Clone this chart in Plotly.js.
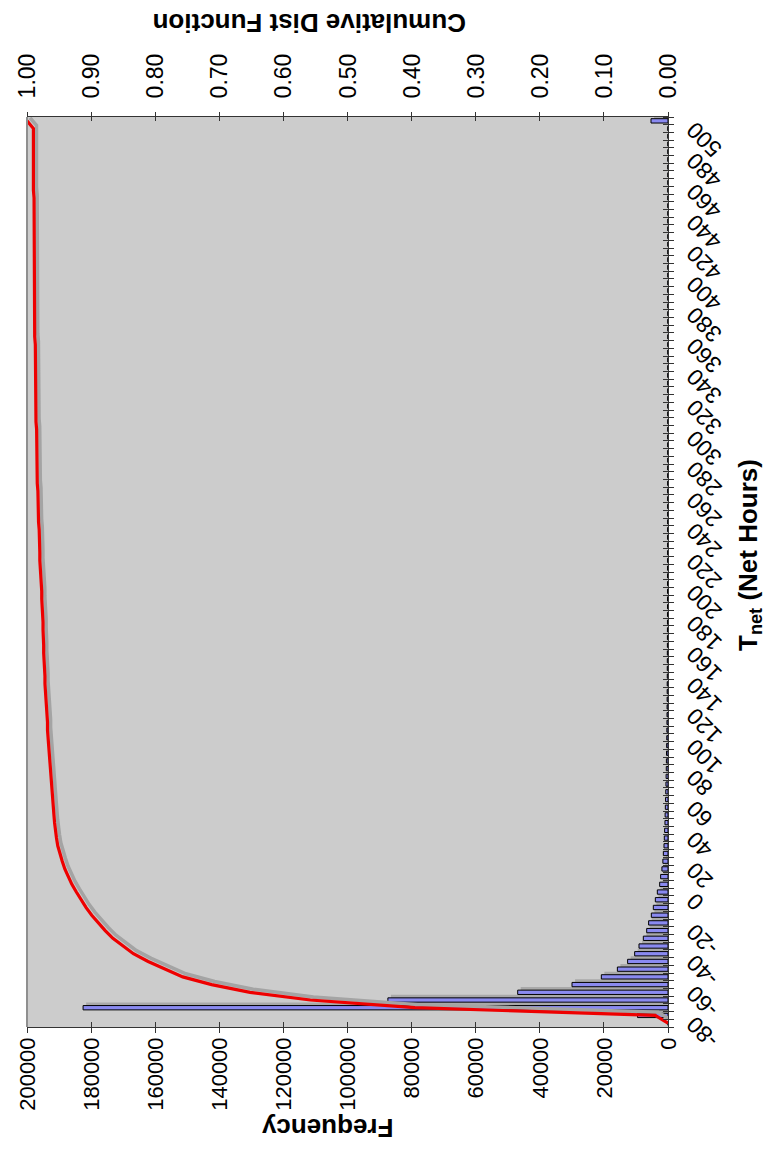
<!DOCTYPE html>
<html>
<head>
<meta charset="utf-8">
<script src="https://cdn.plot.ly/plotly-3.0.1.min.js"></script>
<style>
html,body{margin:0;padding:0;background:#fff;overflow:hidden;width:770px;height:1152px;}
#wrap{position:absolute;left:0;top:0;width:1152px;height:770px;transform-origin:0 0;transform:translate(0px,1152px) rotate(-90deg);}
#chart{width:1152px;height:770px;}
</style>
</head>
<body>
<div id="wrap"><div id="chart"></div></div>
<script>
// Bin values of T_net (net hours)
const tnetBins = [
  -80,-75,-70,-65,-60,-55,-50,-45,-40,-35,
  -30,-25,-20,-15,-10,-5,0,5,10,15,
  20,25,30,35,40,45,50,55,60,65,
  70,75,80,85,90,95,100,105,110,115,
  120,125,130,135,140,145,150,155,160,165,
  170,175,180,185,190,195,200,205,210,215,
  220,225,230,235,240,245,250,255,260,265,
  270,275,280,285,290,295,300,305,310,315,
  320,325,330,335,340,345,350,355,360,365,
  370,375,380,385,390,395,400,405,410,415,
  420,425,430,435,440,445,450,455,460,465,
  470,475,480,485,490,495,500,505
];

// Frequency per bin
const frequency = [
  0,9500,182500,87400,46900,29950,20800,15800,12600,10400,
  9050,7700,6650,6050,5200,4580,3950,3330,2600,2300,
  1900,1600,1450,1250,1150,1050,950,900,830,760,
  700,640,600,540,500,460,420,390,360,330,
  310,290,275,260,250,235,225,215,205,195,
  185,178,170,162,155,150,144,138,132,128,
  123,118,115,112,108,105,102,100,97,95,
  92,90,88,86,84,82,80,78,76,75,
  73,72,70,69,68,66,65,64,63,62,
  61,60,59,58,57,56,55,54,54,53,
  52,51,50,50,49,48,48,47,46,46,
  45,45,44,44,43,43,42,5300
];

// Cumulative distribution function per bin
const cdf = [
  0,0.020,0.395,0.558,0.652,0.712,0.757,0.785,0.811,0.834,
  0.851,0.866,0.878,0.889,0.899,0.908,0.916,0.923,0.930,0.936,
  0.941,0.945,0.949,0.952,0.954,0.956,0.957,0.958,0.959,0.960,
  0.961,0.962,0.963,0.964,0.965,0.966,0.966,0.967,0.968,0.968,
  0.969,0.970,0.971,0.971,0.972,0.972,0.973,0.973,0.974,0.974,
  0.975,0.975,0.975,0.976,0.976,0.977,0.977,0.978,0.978,0.979,
  0.980,0.980,0.980,0.981,0.981,0.982,0.982,0.983,0.983,0.983,
  0.984,0.984,0.984,0.984,0.985,0.985,0.985,0.985,0.986,0.986,
  0.986,0.986,0.986,0.987,0.987,0.987,0.987,0.987,0.987,0.988,
  0.988,0.988,0.988,0.988,0.988,0.988,0.988,0.989,0.989,0.989,
  0.989,0.989,0.989,0.989,0.989,0.989,0.989,0.989,0.990,0.990,
  0.990,0.990,0.990,0.990,0.990,0.990,0.990,1.000
];

// Axis tick labels
const xTickVals = [-80,-60,-40,-20,0,20,40,60,80,100,120,140,160,180,200,220,240,260,280,300,320,340,360,380,400,420,440,460,480,500];
const xTickText = ["-80","-60","-40","-20","0","20","40","60","80","100","120","140","160","180","200","220","240","260","280","300","320","340","360","380","400","420","440","460","480","500"];

const titleX = "T<sub>net</sub> (Net Hours)";
const titleY = "Frequency";
const titleY2 = "Cumulative Dist Function";

// style constants (drop-shadow offsets)
const shX = 2.0;       // x units (~3px)
const shYbar = -950;   // frequency units (~3px)
const shYcdf = -0.0048;

const FONT = "Liberation Sans, Arial, Helvetica, sans-serif";

const traces = [
  { type:'bar', x: tnetBins.map(v=>v+shX), y: frequency, base: frequency.map(()=>shYbar),
    width: 2.8, marker:{color:'#a9a9a9', line:{width:0}}, xaxis:'x', yaxis:'y', hoverinfo:'skip' },
  { type:'bar', x: tnetBins, y: frequency, width: 2.8,
    marker:{color:'#8a8af0', line:{color:'#000', width:1}}, xaxis:'x', yaxis:'y' },
  { type:'scatter', mode:'lines', x: tnetBins.map(v=>v+shX), y: cdf.map(v=>v+shYcdf),
    line:{color:'#a4a4a4', width:3.5}, xaxis:'x', yaxis:'y2', hoverinfo:'skip' },
  { type:'scatter', mode:'lines', x: tnetBins, y: cdf,
    line:{color:'#ee0000', width:3.2}, xaxis:'x', yaxis:'y2' },
  { type:'scatter', mode:'lines', x:[null], y:[null], xaxis:'x2', yaxis:'y3', showlegend:false, hoverinfo:'skip' },
  { type:'scatter', mode:'lines', x:[null], y:[null], xaxis:'x', yaxis:'y4', showlegend:false, hoverinfo:'skip' }
];

const axCol = '#333333';
const layout = {
  width:1152, height:770,
  paper_bgcolor:'#ffffff', plot_bgcolor:'#cccccc',
  margin:{l:125, r:117, t:27, b:102, pad:0},
  showlegend:false,
  barmode:'overlay',
  font:{family:FONT, color:'#000', size:23},
  xaxis:{
    range:[-82.5,507.5], tickmode:'array', tickvals:xTickVals, ticktext:xTickText,
    tickangle:-45, ticks:'', showline:true, linecolor:axCol, linewidth:1,
    showgrid:false, zeroline:false, tickfont:{size:23, family:FONT}, ticklabelstandoff:3,
    minor:{tickmode:'linear', tick0:-82.5, dtick:5, ticks:'outside', ticklen:5, tickcolor:axCol, tickwidth:1, showgrid:false}
  },
  xaxis2:{
    overlaying:'x', anchor:'y', side:'bottom', range:[-82.5,507.5],
    showticklabels:false, showline:false, showgrid:false, zeroline:false, ticks:'',
    minor:{tickmode:'linear', tick0:-82.5, dtick:5, ticks:'inside', ticklen:5, tickcolor:axCol, tickwidth:1, showgrid:false}
  },
  yaxis:{
    range:[0,200000], tickmode:'linear', tick0:0, dtick:20000, tickformat:'d',
    ticks:'outside', ticklen:5, tickcolor:axCol, showline:true, linecolor:axCol, linewidth:1,
    showgrid:false, zeroline:false, tickfont:{size:22, family:FONT}
  },
  yaxis2:{
    overlaying:'y', side:'right', anchor:'x', range:[0,1], tickmode:'linear', tick0:0, dtick:0.1,
    tickformat:'.2f', ticks:'outside', ticklen:4, tickcolor:axCol, showline:true, linecolor:axCol, linewidth:1,
    showgrid:false, zeroline:false, tickfont:{size:23, family:FONT}, ticklabelstandoff:9
  },
  yaxis3:{
    overlaying:'y', side:'left', anchor:'x', range:[0,200000], tickmode:'linear', tick0:0, dtick:20000,
    ticks:'inside', ticklen:5, tickcolor:axCol, showticklabels:false, showline:false, showgrid:false, zeroline:false
  },
  yaxis4:{
    overlaying:'y', side:'right', anchor:'x', range:[0,1], tickmode:'linear', tick0:0, dtick:0.1,
    ticks:'inside', ticklen:4, tickcolor:axCol, showticklabels:false, showline:false, showgrid:false, zeroline:false
  },
  shapes:[
    {type:'line', xref:'paper', yref:'paper', x0:0, x1:1, y0:1, y1:1, line:{color:'#8f8f8f', width:2}}
  ],
  annotations:[
    {text:titleY, xref:'paper', yref:'paper', x:-0.1105, y:0.532, xanchor:'center', yanchor:'middle',
     textangle:-90, showarrow:false, font:{size:26, family:FONT, weight:'bold'}},
    {text:titleY2, xref:'paper', yref:'paper', x:1.1033, y:0.5585, xanchor:'center', yanchor:'middle',
     textangle:-90, showarrow:false, font:{size:26, family:FONT, weight:'bold'}},
    {text:titleX, xref:'paper', yref:'paper', x:0.5187, y:-0.1264, xanchor:'center', yanchor:'middle',
     showarrow:false, font:{size:26, family:FONT, weight:'bold'}}
  ]
};

Plotly.newPlot('chart', traces, layout, {staticPlot:true, displayModeBar:false});
</script>
</body>
</html>
